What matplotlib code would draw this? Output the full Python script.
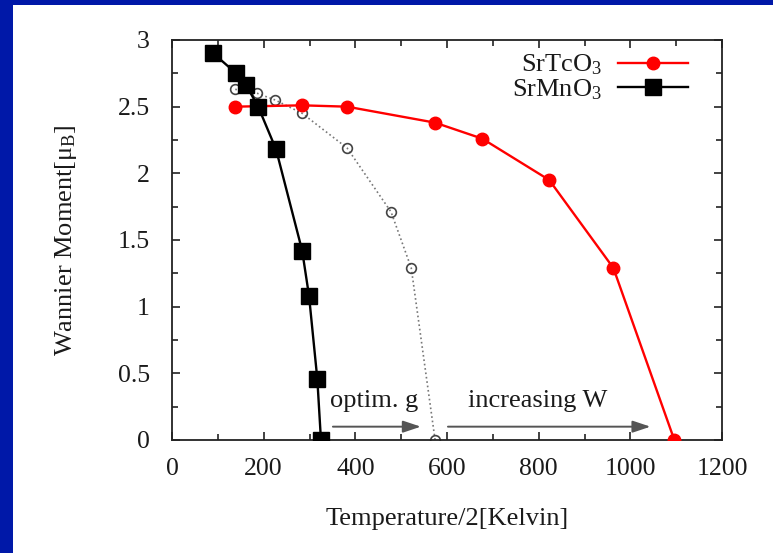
import matplotlib
matplotlib.use("Agg")
import matplotlib.pyplot as plt
from matplotlib.ticker import MultipleLocator, FuncFormatter
from matplotlib.patches import Rectangle

plt.rcParams['font.family'] = ['Liberation Serif', 'DejaVu Serif']
plt.rcParams['mathtext.fontset'] = 'custom'
plt.rcParams['mathtext.rm'] = 'Liberation Serif'
plt.rcParams['mathtext.it'] = 'Liberation Serif:italic'

# Data
tc_x = [138, 284, 382, 574, 677, 823, 963, 1096]
tc_y = [2.50, 2.51, 2.50, 2.38, 2.26, 1.95, 1.29, 0.0]

mn_x = [90, 140, 162, 188, 227, 284, 299, 317, 325]
mn_y = [2.90, 2.75, 2.66, 2.50, 2.18, 1.42, 1.08, 0.46, 0.0]

opt_x = [138, 186, 225, 284, 382, 478, 522, 574]
opt_y = [2.63, 2.60, 2.55, 2.45, 2.19, 1.71, 1.29, 0.0]

labels = ['SrTcO$_3$', 'SrMnO$_3$']
xlabel = 'Temperature/2[Kelvin]'
ylabel = 'Wannier Moment[μ$_{\\rm B}$]'
ann_opt = 'optim. g'
ann_w = 'increasing W'

fig = plt.figure(figsize=(7.73, 5.53), dpi=100)
fig.patch.set_facecolor('white')
# blue frame strips (left and top)
fig.patches.append(Rectangle((0, 0), 13/773, 1, transform=fig.transFigure,
                             facecolor='#0018a8', edgecolor='none', zorder=0))
fig.patches.append(Rectangle((0, 1 - 5/553), 1, 5/553, transform=fig.transFigure,
                             facecolor='#0018a8', edgecolor='none', zorder=0))

ax = fig.add_axes([172/773, (553-440)/553, (722-172)/773, (440-40)/553])

ax.plot(opt_x, opt_y, linestyle=':', color='#777777', lw=1.2, marker='o',
        markersize=7, markerfacecolor='none', markeredgecolor='#444444',
        markeredgewidth=1.2, zorder=2)
ax.plot(tc_x, tc_y, '-', color='#ff0000', lw=1.7, marker='o', markersize=9,
        markerfacecolor='#ff0000', markeredgecolor='#ff0000', label=labels[0], zorder=3)
ax.plot(mn_x, mn_y, '-', color='#000000', lw=1.7, marker='s', markersize=11,
        markerfacecolor='#000000', markeredgecolor='#000000', label=labels[1], zorder=4)

ax.set_xlim(0, 1200)
ax.set_ylim(0, 3)
ax.xaxis.set_major_locator(MultipleLocator(200))
ax.xaxis.set_minor_locator(MultipleLocator(100))
ax.yaxis.set_major_locator(MultipleLocator(0.5))
ax.yaxis.set_minor_locator(MultipleLocator(0.25))
ax.yaxis.set_major_formatter(FuncFormatter(lambda v, p: '%g' % v))
ax.tick_params(which='both', direction='in', top=True, right=True, labelsize=18.5,
               color='#222222', labelcolor='#1a1a1a')
ax.tick_params(which='major', length=6, width=1.2)
ax.tick_params(which='minor', length=4, width=1.2)
ax.tick_params(axis='x', which='major', pad=13)
ax.tick_params(axis='y', which='major', pad=16)
for s in ax.spines.values():
    s.set_linewidth(1.3)
    s.set_color('#222222')

ax.set_xlabel(xlabel, fontsize=19, labelpad=20, color='#1a1a1a')
ax.set_ylabel(ylabel, fontsize=19, labelpad=28, color='#1a1a1a')

# arrows and annotations
ax.annotate('', xy=(549, 0.10), xytext=(345, 0.10),
            arrowprops=dict(arrowstyle='-|>,head_length=0.6,head_width=0.2',
                            color='#555555', lw=1.4, mutation_scale=18))
ax.annotate('', xy=(1050, 0.10), xytext=(596, 0.10),
            arrowprops=dict(arrowstyle='-|>,head_length=0.6,head_width=0.2',
                            color='#555555', lw=1.4, mutation_scale=18))
ax.text(345, 0.29, ann_opt, fontsize=19, va='center', ha='left', color='#1a1a1a')
ax.text(646, 0.29, ann_w, fontsize=19, va='center', ha='left', color='#1a1a1a')

leg = ax.legend(loc='upper right', bbox_to_anchor=(0.938, 0.968), frameon=False,
                markerfirst=False, fontsize=19, handlelength=2.65, labelspacing=0.0,
                handletextpad=0.6, borderaxespad=0.0, borderpad=0.0)
for t in leg.get_texts():
    t.set_color('#1a1a1a')

fig.savefig('out.png', dpi=100)
